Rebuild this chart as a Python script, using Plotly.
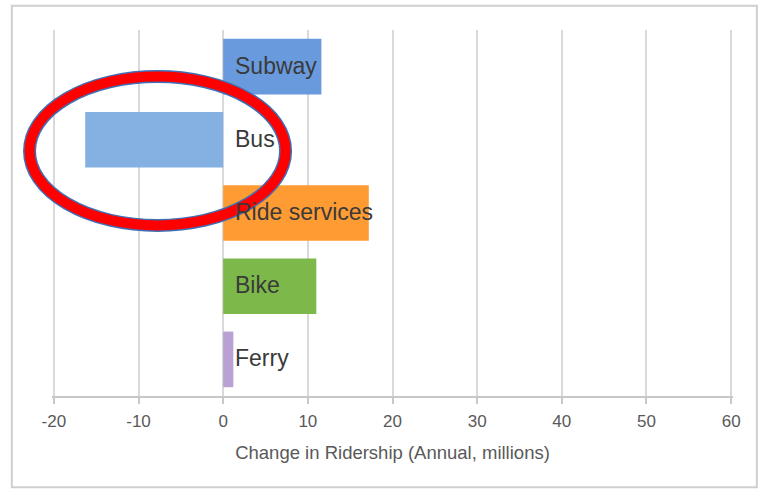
import plotly.graph_objects as go

categories = ["Subway", "Bus", "Ride services", "Bike", "Ferry"]
values = [11.6, -16.3, 17.2, 11.0, 1.2]
colors = ["#6a9ade", "#84b0e2", "#ff9b33", "#7cb84a", "#b9a1d3"]
tick_vals = [-20, -10, 0, 10, 20, 30, 40, 50, 60]
x_title = "Change in Ridership (Annual, millions)"

fig = go.Figure()
fig.add_trace(go.Bar(
    y=categories, x=values, orientation="h",
    marker=dict(color=colors, line=dict(width=0)),
    width=0.76, showlegend=False, hoverinfo="skip",
))

for c in categories:
    fig.add_annotation(
        x=0, y=c, xref="x", yref="y", text=c, showarrow=False,
        xanchor="left", xshift=10, yshift=1,
        font=dict(family="Liberation Sans, Arial", size=23, color="#3a3a3a"),
    )

# outer chart frame
fig.add_shape(type="rect", xref="paper", yref="paper",
              x0=-0.059, x1=1.035, y0=-0.249, y1=1.066,
              line=dict(color="#cfcfcf", width=2), layer="below")

# highlight ellipse (blue outline + red stroke)
ell = dict(type="circle", xref="paper", yref="paper",
           x0=-0.033, x1=0.343, y0=0.466, y1=0.873)
fig.add_shape(**ell, line=dict(color="#3f6fb5", width=13), layer="above")
fig.add_shape(**ell, line=dict(color="#ff0000", width=10), layer="above")

fig.update_layout(
    width=763, height=489,
    margin=dict(l=52, r=30, t=30, b=93),
    paper_bgcolor="white", plot_bgcolor="white",
    bargap=0.24,
    font=dict(family="Liberation Sans, Arial", color="#595959"),
    xaxis=dict(
        range=[-20.22, 60.22], tickvals=tick_vals,
        ticktext=[str(v) for v in tick_vals],
        showgrid=True, gridcolor="#d9d9d9", gridwidth=2,
        zeroline=False,
        showline=True, linecolor="#c8c8c8", linewidth=1.5,
        ticks="outside", ticklen=6, tickcolor="#c8c8c8", tickwidth=1.5,
        ticklabelstandoff=3,
        tickfont=dict(size=17, color="#595959"),
        title=dict(text=x_title, font=dict(size=18.5, color="#595959"), standoff=16),
    ),
    yaxis=dict(
        categoryorder="array", categoryarray=categories,
        autorange="reversed", showticklabels=False,
        showgrid=False, zeroline=False, showline=False, ticks="",
    ),
)

fig.write_html("out.html")
